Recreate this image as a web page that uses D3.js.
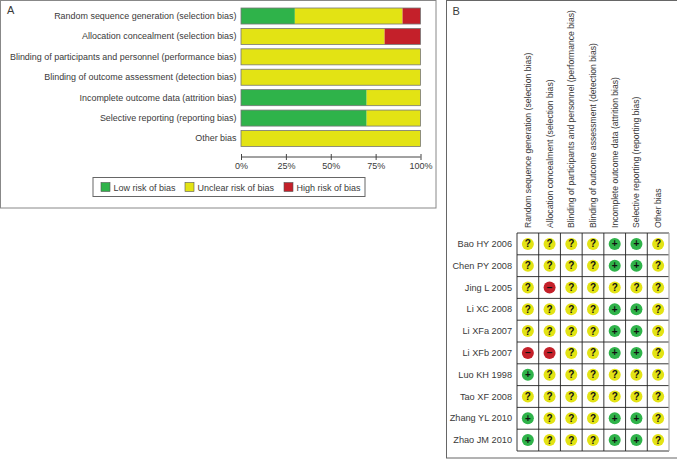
<!DOCTYPE html>
<html>
<head>
<meta charset="utf-8">
<script src="https://cdn.jsdelivr.net/npm/d3@7"></script>
<style>
  html, body { margin: 0; padding: 0; background: #fff; }
  text { font-family: "Liberation Sans", Arial, sans-serif; fill: #3a3a3a; }
</style>
</head>
<body>
<div id="viz"></div>
<script>
const domains = [
  "Random sequence generation (selection bias)",
  "Allocation concealment (selection bias)",
  "Blinding of participants and personnel (performance bias)",
  "Blinding of outcome assessment (detection bias)",
  "Incomplete outcome data (attrition bias)",
  "Selective reporting (reporting bias)",
  "Other bias"
];
const lowRisk     = [30, 0, 0, 0, 70, 70, 0];
const unclearRisk = [60, 80, 100, 100, 30, 30, 100];
const highRisk    = [10, 20, 0, 0, 0, 0, 0];
const xTicks = [0, 25, 50, 75, 100];
const legendLabels = ["Low risk of bias", "Unclear risk of bias", "High risk of bias"];

const studies = [
  "Bao HY 2006", "Chen PY 2008", "Jing L 2005", "Li XC 2008", "Li XFa 2007",
  "Li XFb 2007", "Luo KH 1998", "Tao XF 2008", "Zhang YL 2010", "Zhao JM 2010"
];
// one string per study, one character per domain
const judgements = [
  "????++?",
  "????++?",
  "?-?????",
  "????++?",
  "????++?",
  "--??++?",
  "+??????",
  "???????",
  "+???++?",
  "+???++?"
];

const green = "#2fb34a", yellow = "#e3e314", red = "#c4202a";
const riskColor = { "+": green, "?": yellow, "-": red };
const riskSymbol = { "+": "+", "?": "?", "-": "\u2212" };

const svg = d3.select("#viz").append("svg")
  .attr("width", 677).attr("height", 459)
  .style("display", "block");

// panel frames
svg.append("rect").attr("x", 0.5).attr("y", 0.5).attr("width", 435.5).attr("height", 207.5)
  .attr("fill", "none").attr("stroke", "#888");
svg.append("rect").attr("x", 446.5).attr("y", 0.5).attr("width", 232).attr("height", 457.5)
  .attr("fill", "none").attr("stroke", "#666");

svg.append("text").attr("x", 7).attr("y", 14).attr("font-size", 11).text("A");
svg.append("text").attr("x", 452.5).attr("y", 15).attr("font-size", 11).text("B");

// Panel A: stacked bars
const x = d3.scaleLinear().domain([0, 100]).range([241, 420.5]);
const y = d3.scaleBand().domain(domains).range([8, 146.5]).paddingInner(0.215).paddingOuter(0);

const stackRows = domains.map((d, i) => ({
  domain: d, low: lowRisk[i], unclear: unclearRisk[i], high: highRisk[i]
}));
const stacked = d3.stack().keys(["low", "unclear", "high"])(stackRows);
const stackColors = { low: green, unclear: yellow, high: red };

stacked.forEach(layer => {
  svg.append("g").selectAll("rect").data(layer).join("rect")
    .attr("x", d => x(d[0]))
    .attr("y", d => y(d.data.domain))
    .attr("width", d => x(d[1]) - x(d[0]))
    .attr("height", y.bandwidth())
    .attr("fill", stackColors[layer.key]);
});

// thin grey outline round each bar
svg.append("g").selectAll("rect").data(domains).join("rect")
  .attr("x", x(0)).attr("y", d => y(d))
  .attr("width", x(100) - x(0)).attr("height", y.bandwidth())
  .attr("fill", "none").attr("stroke", "#777").attr("stroke-width", 0.8);

svg.append("g").selectAll("text").data(domains).join("text")
  .attr("x", 236.5)
  .attr("y", d => y(d) + y.bandwidth() / 2 + 3)
  .attr("text-anchor", "end")
  .attr("font-size", 8.95)
  .text(d => d);

const xAxis = d3.axisBottom(x).tickValues(xTicks).tickFormat(d => d + "%")
  .tickSize(6).tickSizeOuter(0);
const axisG = svg.append("g").attr("transform", "translate(0,157)").call(xAxis);
axisG.select(".domain").attr("stroke", "#444").attr("d", `M${x(0)},0H${x(100)}`);
axisG.selectAll(".tick line").attr("stroke", "#444").attr("y1", -3).attr("y2", 3);
axisG.selectAll(".tick text").attr("y", 6).attr("font-size", 9)
  .attr("font-family", "Liberation Sans").attr("fill", "#3a3a3a");

// legend
svg.append("rect").attr("x", 93).attr("y", 177.5).attr("width", 272).attr("height", 19)
  .attr("fill", "#fff").attr("stroke", "#666");
const legendX = d3.scaleOrdinal().domain(legendLabels).range([101, 185, 284]);
const legendColor = d3.scaleOrdinal().domain(legendLabels).range([green, yellow, red]);
legendLabels.forEach(label => {
  svg.append("rect").attr("x", legendX(label)).attr("y", 182.5)
    .attr("width", 9).attr("height", 9)
    .attr("fill", legendColor(label)).attr("stroke", "#555").attr("stroke-width", 0.6);
  svg.append("text").attr("x", legendX(label) + 12.5).attr("y", 190.5)
    .attr("font-size", 9).text(label);
});

// Panel B: risk of bias table
const cx = d3.scaleBand().domain(domains).range([517, 669]);
const cy = d3.scaleBand().domain(studies).range([233, 451]);

const gridG = svg.append("g").attr("stroke", "#222").attr("stroke-width", 0.9);
domains.forEach(d => {
  gridG.append("line").attr("x1", cx(d)).attr("x2", cx(d)).attr("y1", 233).attr("y2", 451);
});
studies.concat([null]).forEach(s => {
  const py = s === null ? cy.range()[1] : cy(s);
  gridG.append("line").attr("x1", 517).attr("x2", 669).attr("y1", py).attr("y2", py);
});
// right edge of the table is a lighter grey
svg.append("line").attr("x1", 669).attr("x2", 669).attr("y1", 233).attr("y2", 451)
  .attr("stroke", "#aaa").attr("stroke-width", 1.2);

svg.append("g").selectAll("text").data(studies).join("text")
  .attr("x", 512)
  .attr("y", d => cy(d) + cy.bandwidth() / 2 + 3)
  .attr("text-anchor", "end")
  .attr("font-size", 9.2)
  .text(d => d);

svg.append("g").selectAll("text").data(domains).join("text")
  .attr("transform", d => `translate(${cx(d) + cx.bandwidth() / 2 + 3},228) rotate(-90)`)
  .attr("font-size", 8.6)
  .text(d => d);

const cells = judgements.flatMap((row, i) =>
  row.split("").map((v, j) => ({ study: studies[i], domain: domains[j], value: v })));

const cellG = svg.append("g").selectAll("g").data(cells).join("g")
  .attr("transform", d => `translate(${cx(d.domain) + cx.bandwidth() / 2},${cy(d.study) + cy.bandwidth() / 2})`);
cellG.append("circle").attr("r", 6).attr("fill", d => riskColor[d.value]);
cellG.append("text")
  .attr("text-anchor", "middle")
  .attr("y", 3.5)
  .attr("font-size", 10)
  .attr("font-weight", "bold")
  .style("fill", "#111")
  .text(d => riskSymbol[d.value]);
</script>
</body>
</html>
